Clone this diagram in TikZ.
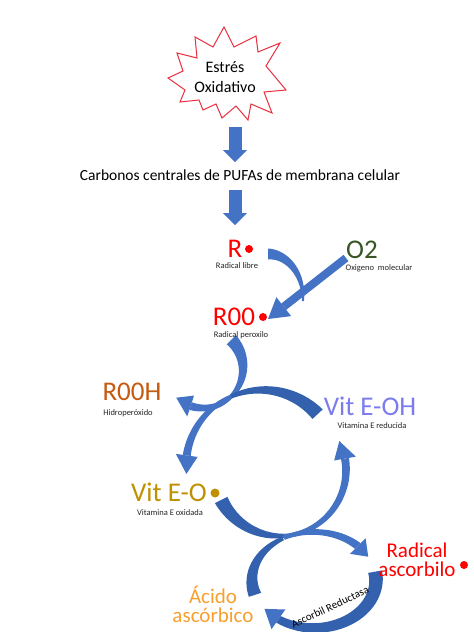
\documentclass[tikz,border=0pt]{standalone}
\usepackage{fontspec}
\setmainfont{Carlito}
\usetikzlibrary{arrows.meta}
\definecolor{arrblue}{HTML}{4472C4}
\definecolor{arrdark}{HTML}{3461AE}
\definecolor{starred}{HTML}{E8303F}
\definecolor{radred}{HTML}{FF0000}
\definecolor{oxgreen}{HTML}{375623}
\definecolor{roohcol}{HTML}{C55A11}
\definecolor{vitohcol}{HTML}{7C7CEE}
\definecolor{vitocol}{HTML}{BF9000}
\definecolor{acidcol}{HTML}{F7A030}
\definecolor{labgray}{HTML}{262626}

% tapered band along an elliptic arc: cx cy rx ry a1 a2 w1 w2 colour
\newcommand{\arwband}[9]{%
  \fill[#9] plot[domain=#5:#6,samples=40,variable=\t]
    ({#1+(#3+((#7)+((#8)-(#7))*(\t-(#5))/((#6)-(#5)))/2)*cos(\t)},
     {#2+(#4+((#7)+((#8)-(#7))*(\t-(#5))/((#6)-(#5)))/2)*sin(\t)})
  -- plot[domain=#6:#5,samples=40,variable=\t]
    ({#1+(#3-((#7)+((#8)-(#7))*(\t-(#5))/((#6)-(#5)))/2)*cos(\t)},
     {#2+(#4-((#7)+((#8)-(#7))*(\t-(#5))/((#6)-(#5)))/2)*sin(\t)})
  -- cycle;}
% arrow head on an elliptic arc: cx cy rx ry a hw da colour
\newcommand{\arwhead}[8]{%
  \fill[#8] ({#1+(#3+(#6)/2)*cos(#5)},{#2+(#4+(#6)/2)*sin(#5)})
    -- ({#1+#3*cos((#5)+(#7))},{#2+#4*sin((#5)+(#7))})
    -- ({#1+(#3-(#6)/2)*cos(#5)},{#2+(#4-(#6)/2)*sin(#5)}) -- cycle;}

\begin{document}
\begin{tikzpicture}[x=1pt,y=-1pt,
  lab/.style={inner sep=0pt, font=\fontsize{8.5}{10}\selectfont, text=labgray},
  bigtxt/.style={inner sep=0pt, font=\fontsize{27}{30}\selectfont},
  midtxt/.style={inner sep=0pt, align=center, font=\fontsize{21}{19}\selectfont},
  downarr/.style={draw=arrblue, line width=13pt, -{Triangle[width=24pt,length=12pt,line width=0pt]}},
  blockarr/.style={draw=arrblue, line width=8pt, -{Triangle[width=24pt,length=20pt,line width=0pt]}},
  dotmark/.style={circle, inner sep=0pt, minimum size=8pt}]
\fill[white] (0,0) rectangle (474,632);
\useasboundingbox (0,0) rectangle (474,632);
\clip (0,0) rectangle (474,632);

% explosion shape
\draw[draw=starred, line width=1pt, fill=white, line join=miter]
  (224,27) -- (234,47) -- (256,36) -- (258,52) -- (280,43) -- (266,66) --
  (286,90) -- (264,92) -- (272,113) -- (251,104) -- (248,120) -- (236,106) --
  (222,118) -- (216,104) -- (203,110) -- (199,100) -- (180,102) -- (185,90) --
  (168,78) -- (183,71) -- (177,53) -- (197,58) -- (195,37) -- (213,47) -- cycle;
\node[inner sep=0pt, align=center, font=\fontsize{16}{20}\selectfont] (stress) at (225,77) {Estrés\\Oxidativo};

\node[inner sep=0pt, font=\fontsize{15.5}{18}\selectfont] (carb) at (240,175) {Carbonos centrales de PUFAs de membrana celular};

\coordinate (d1s) at (235,127);
\coordinate (d1e) at (235,162);
\coordinate (d2s) at (235,190);
\coordinate (d2e) at (235,225);
\draw[downarr] (d1s) -- (d1e);
\draw[downarr] (d2s) -- (d2e);

% curved arrow R -> R00 (its end runs under the straight arrow)
\arwband{268}{298}{35}{44}{-90}{4}{11}{2}{arrblue}
% straight arrow O2 -> R00
\coordinate (o2tail) at (346,258);
\coordinate (roohead) at (268,319);
\draw[blockarr] (o2tail) -- (roohead);

% R00 -> R00H
\arwband{203}{368}{40}{40}{-45}{45}{13}{4}{arrblue}
\arwband{203}{368}{40}{40}{45}{108}{4}{8}{arrblue}
\arwhead{203}{368}{40}{40}{108}{22}{24}{arrblue}
% Vit E-OH -> Vit E-O
\arwband{262}{466}{76}{76}{-114}{-43}{4}{14}{arrdark}
\arwband{262}{466}{76}{76}{-172}{-114}{8}{4}{arrblue}
\arwhead{262}{466}{76}{76}{-172}{22}{-14}{arrblue}
% Vit E-O -> Radical ascorbilo
\arwband{280}{470}{66}{66}{85}{153}{4}{14}{arrdark}
\arwband{314}{580}{62}{48}{-119}{-45}{4}{8}{arrblue}
\arwhead{314}{580}{62}{48}{-45}{22}{16}{arrblue}
% Acido ascorbico -> Vit E-OH
\arwband{314}{580}{62}{48}{162}{240}{13}{4}{arrdark}
\arwband{280}{470}{66}{66}{-10}{87}{8}{4}{arrblue}
\arwhead{280}{470}{66}{66}{-10}{22}{-16}{arrblue}
% Radical ascorbilo -> Acido ascorbico
\arwband{314}{580}{62}{48}{-10}{125}{14}{8}{arrdark}
\arwhead{314}{580}{62}{48}{125}{24}{18}{arrblue}

% labels
\node[bigtxt, text=radred] (rnode) at (235,249) {R};
\node[dotmark, fill=radred] (rdot) at (249,249) {};
\node[lab] (rlab) at (237,266) {Radical libre};
\node[bigtxt, text=oxgreen] (o2) at (362,250) {O2};
\node[lab] (o2lab) at (379,268) {Oxigeno\ \ molecular};
\node[bigtxt, text=radred] (roo) at (234,317) {R00};
\node[dotmark, fill=radred] (roodot) at (263,317) {};
\node[lab] (roolab) at (241,335) {Radical peroxilo};
\node[bigtxt, text=roohcol] (rooh) at (132,392) {R00H};
\node[lab] (roohlab) at (128,413) {Hidroperóxido};
\node[bigtxt, text=vitohcol] (vitoh) at (370,406) {Vit E-OH};
\node[lab] (vitohlab) at (372,426) {Vitamina E reducida};
\node[bigtxt, text=vitocol] (vito) at (169,492) {Vit E-O};
\node[dotmark, fill=vitocol, minimum size=9pt] (vitodot) at (215,493) {};
\node[lab] (vitolab) at (170,513) {Vitamina E oxidada};
\node[midtxt, text=radred] (rasc) at (417,560) {Radical\\ascorbilo};
\node[dotmark, fill=radred] (rascdot) at (464,565) {};
\node[midtxt, text=acidcol] (acid) at (213,604) {Ácido\\ascórbico};
\node[inner sep=0pt, rotate=25, font=\fontsize{11}{12}\selectfont] (reduct) at (330,607) {Ascorbil Reductasa};
\end{tikzpicture}
\end{document}
